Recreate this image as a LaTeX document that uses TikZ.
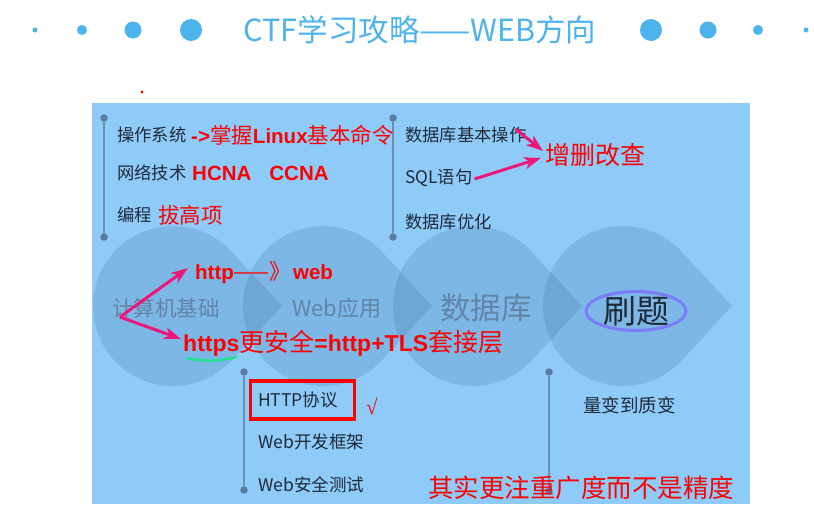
\documentclass[tikz,border=0pt]{standalone}
\usepackage{fontspec}
\setmainfont{Liberation Sans}
\newfontfamily\cjk{Noto Sans CJK SC}
\newfontfamily\serifsym{Liberation Serif}
\usetikzlibrary{arrows.meta,calc}
\definecolor{panelc}{HTML}{8FCBF9}
\definecolor{titleblue}{HTML}{4DB3EC}
\definecolor{darktxt}{HTML}{1E2A38}
\definecolor{redtxt}{HTML}{FF0000}
\definecolor{pinkc}{HTML}{EE1679}
\definecolor{linec}{HTML}{6B8FB3}
\definecolor{dotc}{HTML}{5A7C9E}
\definecolor{tearc}{HTML}{2F5F8F}
\definecolor{ringc}{HTML}{7C7CF6}
\definecolor{greenu}{HTML}{1EE38C}
\definecolor{circtxt}{HTML}{6384A6}
\newcommand\myrb[1]{{\fontsize{20.5}{20.5}\selectfont\bfseries #1}}
\newcommand\myrc[1]{{\cjk\fontsize{21.5}{21.5}\selectfont #1}}
\newcommand\myrbb[1]{{\fontsize{23}{23}\selectfont\bfseries #1}}
\newcommand\myrcc[1]{{\cjk\fontsize{25}{25}\selectfont #1}}
\begin{document}
\begin{tikzpicture}[x=1pt,y=-1pt,
  dk/.style={anchor=west, inner sep=0pt, text=darktxt, font=\cjk\fontsize{17.3}{17.3}\selectfont},
  rd/.style={anchor=west, inner sep=0pt, text=redtxt},
  lbl/.style={inner sep=0pt, text=circtxt},
  vdot/.style={circle, fill=dotc, inner sep=0pt, minimum size=7.5pt},
  vline/.style={draw=linec, line width=1.5pt},
  teardrop/.style={fill=tearc, fill opacity=0.18},
  parrow/.style={draw=pinkc, line width=3pt, -{Stealth[length=17pt,width=12pt,inset=5pt]}},
  tdot/.style={fill=titleblue}]
\useasboundingbox (0,0) rectangle (814,504);
\fill[white] (0,0) rectangle (814,504);
% title
\node[inner sep=0pt, text=titleblue, font=\cjk\fontsize{30.5}{30.5}\selectfont] (title) at (420,30) {CTF学习攻略——WEB方向};
\fill[tdot] (35,30) circle[radius=2.5pt];
\fill[tdot] (82,30) circle[radius=5pt];
\fill[tdot] (133,30) circle[radius=8.5pt];
\fill[tdot] (191,30) circle[radius=11pt];
\fill[tdot] (651,30) circle[radius=11pt];
\fill[tdot] (708,30) circle[radius=8.5pt];
\fill[tdot] (758,30) circle[radius=5pt];
\fill[tdot] (806,30) circle[radius=2.5pt];
\fill[redtxt] (142,92) circle[radius=1.6pt];
% panel
\fill[panelc] (92,103) rectangle (750,504);
% teardrops
\foreach \c in {173,323,473,623}{
  \fill[teardrop] (\c+58.7,251.7) arc[start angle=42.8,end angle=317.2,radius=80pt] -- (\c+109,306) -- cycle;
}
% circle labels
\node[lbl, font=\cjk\fontsize{21.5}{21.5}\selectfont] (jsj) at (166,308) {计算机基础};
\node[lbl, font=\cjk\fontsize{22}{22}\selectfont] (webyy) at (337,308) {Web应用};
\node[lbl, font=\cjk\fontsize{30.5}{30.5}\selectfont] (sjk) at (486,308) {数据库};
\node[inner sep=0pt, text=darktxt, font=\cjk\fontsize{33}{33}\selectfont] (shuati) at (636,311) {刷题};
\draw[ringc, line width=3pt] (shuati.center) ellipse [x radius=50pt, y radius=19.5pt];
% vertical lines
\node[vdot] (a1) at (104,118) {};
\node[vdot] (a2) at (104,237) {};
\draw[vline] (a1) -- (a2);
\node[vdot] (b1) at (393,118) {};
\node[vdot] (b2) at (393,237) {};
\draw[vline] (b1) -- (b2);
\node[vdot] (c1) at (244,372) {};
\node[vdot] (c2) at (244,490) {};
\draw[vline] (c1) -- (c2);
\node[vdot] (d1) at (549,372) {};
\node[vdot] (d2) at (549,491) {};
\draw[vline] (d1) -- (d2);
% top-left block
\node[dk] (os) at (117,135) {操作系统};
\node[rd] (linux) at (191,135) {\myrb{->}\myrc{掌握}\myrb{Linux}\myrc{基本命令}};
\node[dk] (net) at (117,173) {网络技术};
\node[rd] (hcna) at (192,173) {\myrb{HCNA}\hspace{18pt}\myrb{CCNA}};
\node[dk] (prog) at (117,215) {编程};
\node[rd] (bgx) at (158,215) {\myrc{拔高项}};
% top-right block
\node[dk] (db1) at (405,135) {数据库基本操作};
\node[dk] (sql) at (405,178) {SQL语句};
\node[dk] (db3) at (405,222) {数据库优化};
\node[rd] (crud) at (545,155) {{\cjk\fontsize{25}{25}\selectfont 增删改查}};
% http lines
\node[rd] (http) at (195,273) {\myrb{http}\myrc{——》}\,\myrb{web}};
\node[rd] (https) at (183,343) {\myrbb{https}\myrcc{更安全}\myrbb{=http+TLS}\myrcc{套接层}};
\coordinate (g1) at (187,358);
\coordinate (g2) at (236,357);
\draw[greenu, line width=2.5pt, line cap=round] (g1) .. controls (205,362) and (222,361) .. (g2);
% bottom-left block
\node[dk, font=\cjk\fontsize{17.5}{17.5}\selectfont] (httpx) at (258,400) {HTTP协议};
\node[draw=redtxt, line width=3.3pt, minimum width=104pt, minimum height=38pt, inner sep=0pt] (httpbox) at (302.5,400) {};
\node[inner sep=0pt, text=redtxt, font=\serifsym\fontsize{21}{21}\selectfont] (check) at (372,406) {√};
\node[dk, font=\cjk\fontsize{17.5}{17.5}\selectfont] (webfw) at (258,442) {Web开发框架};
\node[dk, font=\cjk\fontsize{17.5}{17.5}\selectfont] (websec) at (258,485) {Web安全测试};
% bottom-right
\node[dk, font=\cjk\fontsize{18.5}{18.5}\selectfont] (lb) at (583,405) {量变到质变};
\node[rd, font=\cjk\fontsize{25.5}{25.5}\selectfont] (note) at (428,488) {其实更注重广度而不是精度};
% arrows
\coordinate (j) at (120,317);
\draw[parrow] (j) -- ($(http.west)+(-7,-5)$);
\draw[parrow] (j) -- ($(https.west)+(-2,-4)$);
\draw[parrow] ($(db1.east)+(-11,-6)$) -- ($(crud.west)+(-2,-4)$);
\draw[parrow] ($(sql.east)+(2,1)$) -- ($(crud.west)+(-4,3)$);
\end{tikzpicture}
\end{document}
